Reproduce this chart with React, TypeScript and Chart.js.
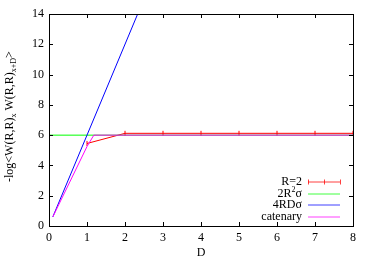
import React, { useEffect, useRef } from "react";
import { Chart, registerables } from "chart.js";

Chart.register(...registerables);

// ---- data ----
const redD = [1, 2, 3, 4, 5, 6, 7, 8];
const redV = [5.45, 6.12, 6.12, 6.12, 6.12, 6.12, 6.12, 6.12];
const greenD = [0, 8];
const greenV = [6.0, 6.0];
const blueD = [0.1, 2.5];
const blueV = [0.6, 15.0];
const magD = [0.1, 1.0, 1.18, 8];
const magV = [0.6, 5.25, 6.0, 6.0];
const legendLabels = ["R=2", "2R\u00B2\u03C3", "4RD\u03C3", "catenary"];
const colors = ["#ff0000", "#00ff00", "#0000ff", "#ff00ff"];
const xTicks = [0, 1, 2, 3, 4, 5, 6, 7, 8];
const yTicks = [0, 2, 4, 6, 8, 10, 12, 14];

const FONT = "'Liberation Serif', 'Times New Roman', serif";

const toPts = (xs: number[], ys: number[]) => xs.map((x, i) => ({ x, y: ys[i] }));

const framePlugin = {
  id: "frame",
  afterDraw(chart: any) {
    const ctx = chart.ctx;
    const { left, right, top, bottom } = chart.chartArea;
    const xs = chart.scales.x;
    const ys = chart.scales.y;
    ctx.save();
    ctx.strokeStyle = "#000";
    ctx.lineWidth = 1;
    ctx.strokeRect(Math.round(left) + 0.5, Math.round(top) + 0.5, Math.round(right - left), Math.round(bottom - top));
    const tl = 4;
    ctx.beginPath();
    xTicks.forEach((v) => {
      const px = Math.round(xs.getPixelForValue(v)) + 0.5;
      ctx.moveTo(px, bottom);
      ctx.lineTo(px, bottom - tl);
      ctx.moveTo(px, top);
      ctx.lineTo(px, top + tl);
    });
    yTicks.forEach((v) => {
      const py = Math.round(ys.getPixelForValue(v)) + 0.5;
      ctx.moveTo(left, py);
      ctx.lineTo(left + tl, py);
      ctx.moveTo(right, py);
      ctx.lineTo(right - tl, py);
    });
    ctx.stroke();

    // legend
    ctx.font = `12px ${FONT}`;
    ctx.fillStyle = "#000";
    ctx.textAlign = "right";
    ctx.textBaseline = "middle";
    const rows = [182, 193.5, 205, 216.5];
    legendLabels.forEach((lab, i) => {
      const y = rows[i];
      if (i === 1) {
        ctx.font = `12px ${FONT}`;
        const wSig = ctx.measureText("\u03C3").width;
        ctx.fillText("\u03C3", 302, y);
        ctx.font = `8px ${FONT}`;
        const wSup = ctx.measureText("2").width;
        ctx.fillText("2", 302 - wSig, y - 4);
        ctx.font = `12px ${FONT}`;
        ctx.fillText("2R", 302 - wSig - wSup, y);
      } else {
        ctx.fillText(lab, 302, y);
      }
      const py = Math.round(y);
      ctx.strokeStyle = colors[i];
      ctx.globalAlpha = 0.75;
      ctx.beginPath();
      ctx.moveTo(308, py);
      ctx.lineTo(340, py);
      if (i === 0) {
        [308, 324, 340].forEach((x) => {
          ctx.moveTo(x + 0.5, py - 2.5);
          ctx.lineTo(x + 0.5, py + 2.5);
        });
      }
      ctx.stroke();
      ctx.globalAlpha = 1;
    });

    // x title
    ctx.textAlign = "center";
    ctx.textBaseline = "middle";
    ctx.font = `12px ${FONT}`;
    ctx.fillText("D", (left + right) / 2, 253);

    // y title (rotated with subscripts)
    ctx.translate(12.5, 182);
    ctx.rotate(-Math.PI / 2);
    ctx.textAlign = "left";
    ctx.textBaseline = "alphabetic";
    const parts: [string, boolean][] = [
      ["-log<W(R,R)", false],
      ["x", true],
      [" W(R,R)", false],
      ["x+D", true],
      [">", false],
    ];
    let cx = 0;
    parts.forEach(([t, sub]) => {
      ctx.font = sub ? `8px ${FONT}` : `12px ${FONT}`;
      ctx.fillText(t, cx, sub ? 3 : 0);
      cx += ctx.measureText(t).width;
    });
    ctx.restore();
  },
};

export default function App() {
  const ref = useRef<HTMLCanvasElement | null>(null);
  useEffect(() => {
    if (!ref.current) return;
    const chart = new Chart(ref.current, {
      type: "scatter",
      data: {
        datasets: [
          {
            label: legendLabels[0],
            data: toPts(redD, redV),
            showLine: true,
            borderColor: colors[0],
            backgroundColor: colors[0],
            borderWidth: 1,
            pointStyle: "line",
            rotation: 90,
            pointRadius: 2.5,
            pointBorderWidth: 1,
            order: 4,
          },
          {
            label: legendLabels[1],
            data: toPts(greenD, greenV),
            showLine: true,
            borderColor: colors[1],
            borderWidth: 1,
            pointRadius: 0,
            order: 3,
          },
          {
            label: legendLabels[2],
            data: toPts(blueD, blueV),
            showLine: true,
            borderColor: colors[2],
            borderWidth: 1,
            pointRadius: 0,
            order: 2,
          },
          {
            label: legendLabels[3],
            data: toPts(magD, magV),
            showLine: true,
            borderColor: colors[3],
            borderWidth: 1,
            pointRadius: 0,
            order: 1,
          },
        ],
      },
      options: {
        animation: false,
        responsive: false,
        devicePixelRatio: 1,
        layout: { padding: { left: 0, top: 14, right: 21, bottom: 0 } },
        plugins: { legend: { display: false }, tooltip: { enabled: false } },
        scales: {
          x: {
            type: "linear",
            min: 0,
            max: 8,
            afterFit: (s: any) => {
              s.height = 36;
            },
            afterBuildTicks: (s: any) => {
              s.ticks = xTicks.map((v) => ({ value: v }));
            },
            grid: { display: false, drawTicks: false },
            border: { display: false },
            ticks: {
              padding: 5,
              color: "#000",
              font: { family: FONT, size: 12 },
              maxRotation: 0,
            },
          },
          y: {
            type: "linear",
            min: 0,
            max: 14,
            afterFit: (s: any) => {
              s.width = 49;
            },
            afterBuildTicks: (s: any) => {
              s.ticks = yTicks.map((v) => ({ value: v }));
            },
            grid: { display: false, drawTicks: false },
            border: { display: false },
            ticks: {
              padding: 5,
              color: "#000",
              font: { family: FONT, size: 12 },
            },
          },
        },
      },
      plugins: [framePlugin],
    });
    return () => chart.destroy();
  }, []);
  return (
    <div style={{ position: "fixed", left: 0, top: 0, width: 374, height: 262, background: "#fff" }}>
      <canvas ref={ref} width={374} height={262} />
    </div>
  );
}
